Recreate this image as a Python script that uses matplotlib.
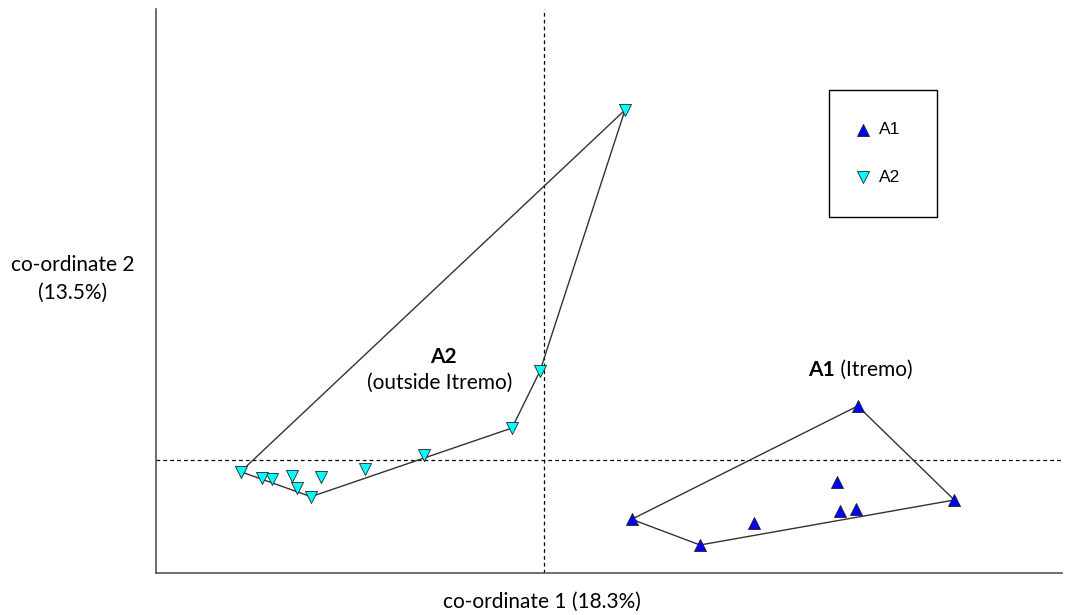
import numpy as np
import matplotlib
matplotlib.use("Agg")
import matplotlib.pyplot as plt

# PCoA coordinates (arbitrary units, origin at the dashed cross)
a1_x = [0.877, 1.56, 2.103, 3.137, 2.927, 2.96, 3.12, 4.103]
a1_y = [-0.593, -0.85, -0.633, 0.54, -0.217, -0.507, -0.49, -0.40]
a2_x = [0.81, -0.04, -0.32, -1.20, -1.79, -2.227, -2.517, -2.473, -2.33, -2.723, -2.823, -3.033]
a2_y = [3.50, 0.89, 0.32, 0.05, -0.093, -0.167, -0.16, -0.28, -0.367, -0.19, -0.18, -0.117]
groups = ["A1", "A2"]
xlabel = "co-ordinate 1 (18.3%)"
ylabel = "co-ordinate 2\n(13.5%)"


def hull(xs, ys):
    pts = sorted(zip(xs, ys))
    def cross(o, a, b):
        return (a[0]-o[0])*(b[1]-o[1]) - (a[1]-o[1])*(b[0]-o[0])
    lower, upper = [], []
    for p in pts:
        while len(lower) >= 2 and cross(lower[-2], lower[-1], p) <= 0:
            lower.pop()
        lower.append(p)
    for p in reversed(pts):
        while len(upper) >= 2 and cross(upper[-2], upper[-1], p) <= 0:
            upper.pop()
        upper.append(p)
    h = lower[:-1] + upper[:-1]
    h.append(h[0])
    return [p[0] for p in h], [p[1] for p in h]


fig = plt.figure(figsize=(10.75, 6.15), dpi=100)
ax = fig.add_axes([156/1075, 42/615, (1062-156)/1075, (573-9)/615])
ax.set_xlim(-3.88, 5.18)
ax.set_ylim(-1.13, 4.51)
for s in ["top", "right"]:
    ax.spines[s].set_visible(False)
for s in ["left", "bottom"]:
    ax.spines[s].set_color("#555555")
    ax.spines[s].set_linewidth(1.2)
ax.set_xticks([])
ax.set_yticks([])

ax.axhline(0, color="black", lw=0.9, ls=(0, (3, 2.5)), zorder=1)
ax.axvline(0, color="black", lw=0.9, ls=(0, (3, 2.5)), zorder=1)

hx, hy = hull(a2_x, a2_y)
ax.plot(hx, hy, color="#333333", lw=1.0, zorder=2)
hx, hy = hull(a1_x, a1_y)
ax.plot(hx, hy, color="#333333", lw=1.0, zorder=2)

ax.scatter(a1_x, a1_y, marker="^", s=75, c="#0000ff", edgecolors="#222222",
           linewidths=0.6, zorder=3, label=groups[0])
ax.scatter(a2_x, a2_y, marker="v", s=75, c="#00ffff", edgecolors="#222222",
           linewidths=0.6, zorder=3, label=groups[1])

font = "Lato"
fs = 15
ax.text(-1.01, 1.03, "A2", fontsize=fs, fontweight="bold", family=font,
        ha="center", va="center")
ax.text(-1.04, 0.77, "(outside Itremo)", fontsize=fs, family=font,
        ha="center", va="center")
t1 = ax.text(2.64, 0.90, "A1", fontsize=fs, fontweight="bold", family=font,
             ha="left", va="center")
ax.annotate(" (Itremo)", xy=(1, 0.5), xycoords=t1, fontsize=fs, family=font,
            ha="left", va="center")

fig.text(542/1075, 1 - 602/615, xlabel, fontsize=fs, family=font,
         ha="center", va="center")
fig.text(73/1075, 1 - 279/615, ylabel, fontsize=fs, family=font,
         ha="center", va="center", linespacing=1.45)

leg = ax.legend(loc="upper left",
                bbox_to_anchor=(829/1075, 1 - 217/615, 108/1075, 127/615),
                bbox_transform=fig.transFigure, mode="expand",
                frameon=True, fancybox=False,
                edgecolor="black", framealpha=1,
                prop={"family": "Liberation Sans", "size": 12.5},
                markerscale=1.0, labelspacing=1.85, borderpad=1.85,
                handletextpad=0.75, handlelength=0.25, borderaxespad=0)
leg.get_frame().set_linewidth(1.0)

fig.savefig("out.png", dpi=100)
